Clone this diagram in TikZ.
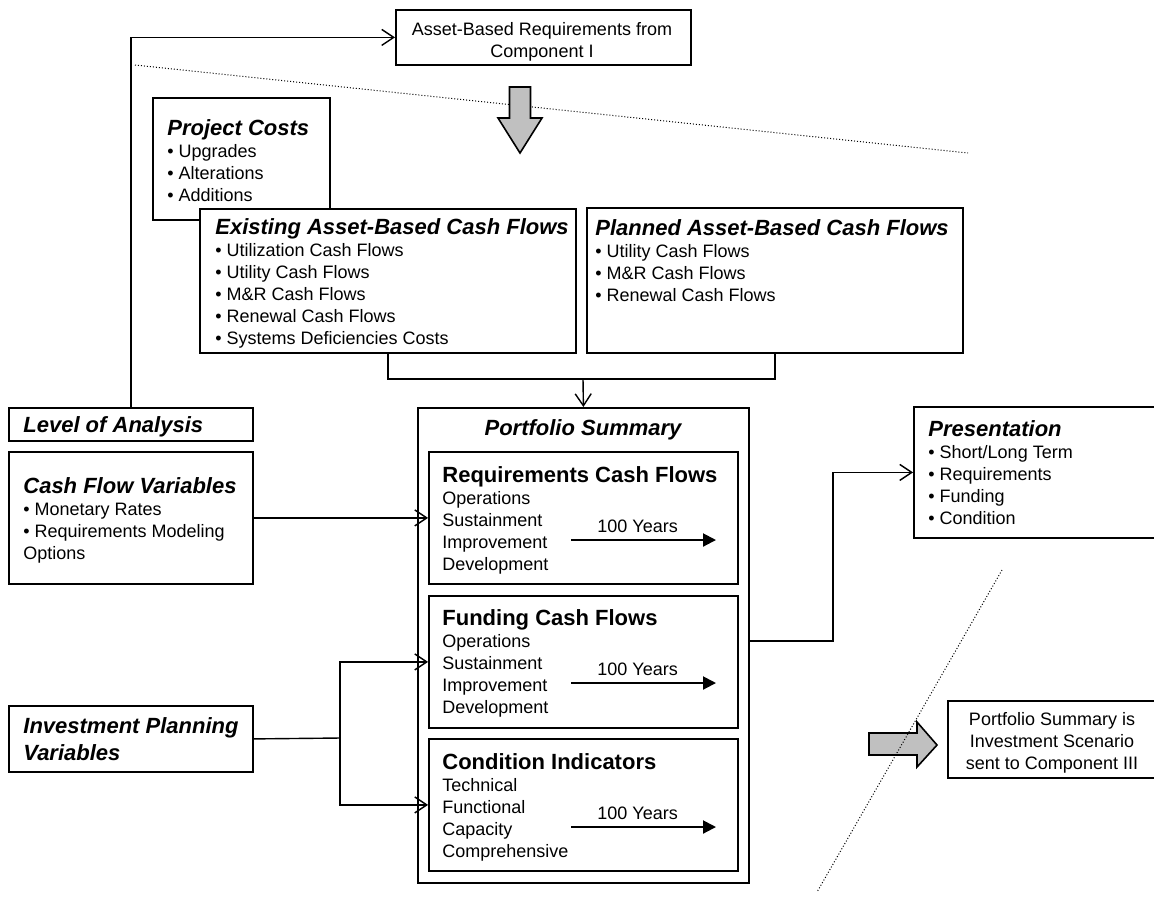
\documentclass[tikz,border=0pt]{standalone}
\usepackage{fontspec}
\setmainfont{Liberation Sans}
\usetikzlibrary{arrows.meta}
\definecolor{arrowgray}{RGB}{192,192,192}
\newcommand\ttlfont{\fontsize{11}{13}\selectfont\bfseries\itshape}
\newcommand\hdfont{\fontsize{11}{13}\selectfont\bfseries}
\newcommand\bodyfont{\fontsize{9}{11}\selectfont}
\begin{document}
\begin{tikzpicture}[x=0.5pt,y=-0.5pt,
  box/.style n args={2}{draw, line width=0.9pt, fill=white, inner sep=0pt, anchor=north west,
      minimum width=#1*0.5pt, minimum height=#2*0.5pt},
  txt/.style={inner sep=0pt, anchor=north west, align=left, font=\bodyfont},
  ctxt/.style={inner sep=0pt, anchor=north, align=center, font=\bodyfont},
  plain/.style={line width=0.7pt},
  conn/.style={line width=0.7pt, -{Straight Barb[length=6pt,width=8pt]}},
  years/.style={line width=1pt, -{Triangle[length=6.5pt,width=6.5pt]}},
  sep/.style={densely dotted, line width=0.5pt},
  bigarrow/.style={draw, line width=0.8pt, fill=arrowgray, line join=miter}
]
\useasboundingbox (0,0) rectangle (1154,901);
\clip (0,0) rectangle (1154,901);

% separator line (drawn first, behind the arrow)
\draw[sep] (135,65) -- (968,153);

% top box
\node[box={295}{55}] (top) at (395,9) {};
\node[ctxt] (toptxt) at (542,22) {Asset-Based Requirements from\\Component I};

% gray down arrow
\draw[bigarrow] (509.5,87) -- (530.5,87) -- (530.5,118) -- (542,118) -- (520,153)
   -- (498,118) -- (509.5,118) -- cycle;

% project costs
\node[box={177}{122}] (pc) at (152,97) {};
\node[txt] (pctxt) at (167,119) {{\ttlfont Project Costs}\\• Upgrades\\• Alterations\\• Additions};

% existing
\node[box={376}{144}] (ex) at (199,208) {};
\node[txt] (extxt) at (215,218) {{\ttlfont Existing Asset-Based Cash Flows}\\• Utilization Cash Flows\\• Utility Cash Flows\\• M\&R Cash Flows\\• Renewal Cash Flows\\• Systems Deficiencies Costs};

% planned
\node[box={376}{145}] (pl) at (586,207) {};
\node[txt] (pltxt) at (595,219) {{\ttlfont Planned Asset-Based Cash Flows}\\• Utility Cash Flows\\• M\&R Cash Flows\\• Renewal Cash Flows};

% left boxes
\node[box={244}{33}] (lev) at (8,407) {};
\node[txt] (levtxt) at (23,416) {{\ttlfont Level of Analysis}};

\node[box={244}{132}] (cfv) at (8,451) {};
\node[txt] (cfvtxt) at (23,477) {{\ttlfont Cash Flow Variables}\\• Monetary Rates\\• Requirements Modeling\\Options};

\node[box={244}{66}] (ipv) at (8,705) {};
\node[txt, font=\fontsize{11}{13.5}\selectfont\bfseries\itshape] (ipvtxt) at (23,717) {Investment Planning\\Variables};

% portfolio summary
\node[box={331}{475}] (port) at (417,407) {};
\node[inner sep=0pt, anchor=base, font=\ttlfont] (porttxt) at (583,435) {Portfolio Summary};

\node[box={309}{132}] (req) at (428,451) {};
\node[txt] (reqtxt) at (442,466) {{\hdfont Requirements Cash Flows}\\Operations\\Sustainment\\Improvement\\Development};
\node[inner sep=0pt, anchor=base west, font=\bodyfont] (reqy) at (597,532) {100 Years};
\coordinate (reqa) at (571,540); \coordinate (reqb) at (716,540);
\draw[years] (reqa) -- (reqb);

\node[box={309}{132}] (fund) at (428,595) {};
\node[txt] (fundtxt) at (442,609) {{\hdfont Funding Cash Flows}\\Operations\\Sustainment\\Improvement\\Development};
\node[inner sep=0pt, anchor=base west, font=\bodyfont] (fundy) at (597,675) {100 Years};
\coordinate (funda) at (571,683); \coordinate (fundb) at (716,683);
\draw[years] (funda) -- (fundb);

\node[box={309}{132}] (cond) at (428,738) {};
\node[txt] (condtxt) at (442,753) {{\hdfont Condition Indicators}\\Technical\\Functional\\Capacity\\Comprehensive};
\node[inner sep=0pt, anchor=base west, font=\bodyfont] (condy) at (597,819) {100 Years};
\coordinate (conda) at (571,827); \coordinate (condb) at (716,827);
\draw[years] (conda) -- (condb);

% presentation
\node[box={250}{131}] (pres) at (913,406) {};
\node[txt] (prestxt) at (928,420) {{\ttlfont Presentation}\\• Short/Long Term\\• Requirements\\• Funding\\• Condition};

% final box
\node[box={220}{77}] (fin) at (947,700) {};
\node[ctxt] (fintxt) at (1052,712) {Portfolio Summary is\\Investment Scenario\\sent to Component III};

% gray right arrow
\draw[bigarrow] (869,733) -- (917,733) -- (917,722) -- (937,745) -- (917,767)
   -- (917,755) -- (869,755) -- cycle;

% diagonal separator
\draw[sep] (1002,570) -- (817,892);

% connectors
\draw[conn] (lev.north) |- (top.west);
\coordinate (mrg) at (583,379);
\draw[plain] (ex.south) |- (mrg) -| (pl.south);
\draw[conn] (mrg) -- (port.north);
\draw[conn] (cfv.east) -- (req.west);
\coordinate (ipvj) at (340,738);
\draw[plain] (ipv.east) -- (ipvj);
\draw[conn] (ipvj) |- (fund.west);
\draw[conn] (ipvj) |- (cond.west);
\draw[conn] ([yshift=2.25pt]port.east) -- ++(83,0) |- (pres.west);
\end{tikzpicture}
\end{document}
